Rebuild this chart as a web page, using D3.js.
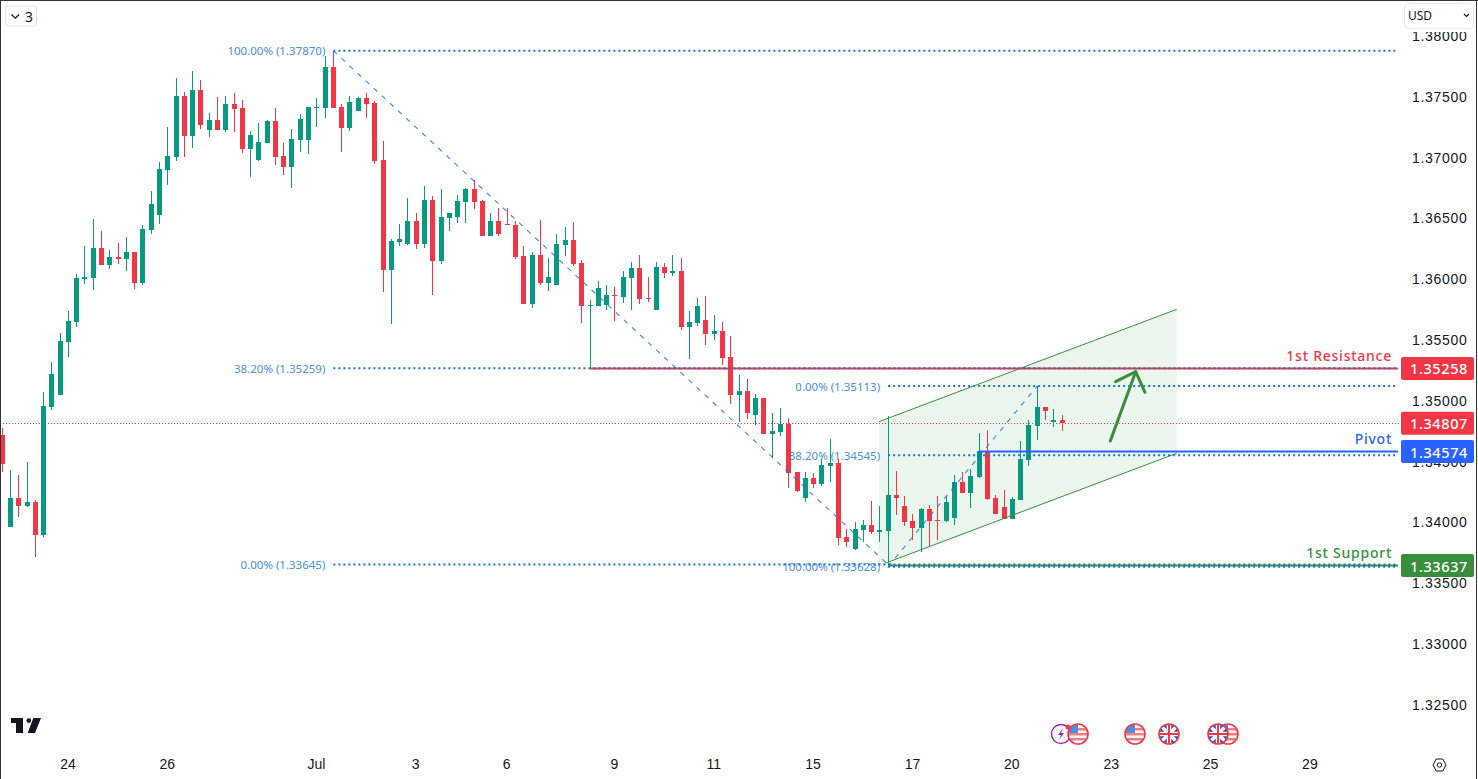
<!DOCTYPE html>
<html>
<head>
<meta charset="utf-8">
<title>USD chart</title>
<script src="https://d3js.org/d3.v7.min.js"></script>
<style>
  html, body { margin:0; padding:0; background:#fff; overflow:hidden; }
  svg { display:block; font-family:"Noto Sans", sans-serif; }
</style>
</head>
<body>
<div id="chart"></div>
<script>
var opens = [1.34711,1.33954,1.34192,1.34127,1.34160,1.33888,1.34941,1.35040,1.35475,1.35640,1.35993,1.36002,1.36248,1.36109,1.36174,1.36158,1.36216,1.35961,1.36396,1.36520,1.36890,1.36997,1.37498,1.37170,1.37548,1.37219,1.37301,1.37219,1.37433,1.37400,1.37063,1.36972,1.37112,1.37293,1.37005,1.36915,1.37137,1.37137,1.37400,1.37400,1.37737,1.37408,1.37235,1.37375,1.37482,1.37441,1.36972,1.36068,1.36298,1.36281,1.36471,1.36281,1.36643,1.36142,1.36495,1.36503,1.36627,1.36734,1.36635,1.36347,1.36471,1.36446,1.36438,1.36183,1.35788,1.36191,1.35961,1.35944,1.36273,1.36314,1.36125,1.35771,1.35771,1.35780,1.35862,1.35845,1.36002,1.36084,1.35837,1.35739,1.36092,1.36043,1.36059,1.35599,1.35632,1.35656,1.35541,1.35566,1.35352,1.35040,1.35072,1.34875,1.35015,1.34719,1.34735,1.34801,1.34406,1.34192,1.34357,1.34308,1.34456,1.34480,1.33872,1.33773,1.33929,1.33970,1.33913,1.33921,1.34217,1.34127,1.34003,1.33946,1.34102,1.34012,1.34003,1.34028,1.34324,1.34234,1.34365,1.34579,1.34192,1.34118,1.34020,1.34176,1.34505,1.34785,1.34941,1.34817,1.34834];
var highs = [1.34768,1.34423,1.34382,1.34489,1.34176,1.35064,1.35311,1.35549,1.35730,1.36035,1.36265,1.36487,1.36388,1.36232,1.36290,1.36339,1.36216,1.36438,1.36717,1.36956,1.37244,1.37647,1.37531,1.37704,1.37630,1.37359,1.37490,1.37498,1.37523,1.37466,1.37211,1.37276,1.37301,1.37400,1.37112,1.37227,1.37350,1.37408,1.37482,1.37827,1.37870,1.37433,1.37498,1.37490,1.37523,1.37457,1.37128,1.36322,1.36446,1.36660,1.36536,1.36758,1.36676,1.36734,1.36536,1.36684,1.36742,1.36808,1.36643,1.36536,1.36577,1.36577,1.36471,1.36265,1.36216,1.36479,1.36166,1.36364,1.36421,1.36462,1.36150,1.35821,1.35977,1.35944,1.35928,1.36059,1.36133,1.36191,1.36010,1.36133,1.36125,1.36191,1.36166,1.35730,1.35837,1.35854,1.35697,1.35640,1.35525,1.35204,1.35171,1.35048,1.35015,1.34891,1.34933,1.34850,1.34406,1.34406,1.34398,1.34513,1.34678,1.34513,1.33937,1.33995,1.34012,1.34168,1.34127,1.34867,1.34414,1.34209,1.34061,1.34110,1.34135,1.34209,1.34209,1.34382,1.34406,1.34431,1.34727,1.34752,1.34217,1.34258,1.34201,1.34661,1.34834,1.35113,1.34941,1.34924,1.34875];
var lows = [1.34406,1.33954,1.34036,1.34118,1.33707,1.33872,1.34916,1.35040,1.35352,1.35599,1.35952,1.35903,1.36109,1.36076,1.36117,1.36059,1.35911,1.35944,1.36364,1.36446,1.36767,1.36964,1.36997,1.37071,1.37227,1.37161,1.37219,1.37202,1.37202,1.37030,1.36832,1.36964,1.37112,1.36931,1.36849,1.36742,1.37038,1.37022,1.37244,1.37318,1.37400,1.37038,1.37211,1.37375,1.37318,1.36939,1.35887,1.35623,1.36265,1.36273,1.36240,1.36248,1.35862,1.36117,1.36388,1.36454,1.36454,1.36569,1.36347,1.36347,1.36347,1.36438,1.36158,1.35788,1.35755,1.35944,1.35895,1.35944,1.36183,1.36100,1.35632,1.35259,1.35771,1.35739,1.35648,1.35796,1.35739,1.35788,1.35804,1.35739,1.36002,1.36018,1.35574,1.35336,1.35607,1.35451,1.35492,1.35286,1.34966,1.34817,1.34842,1.34793,1.34719,1.34521,1.34702,1.34275,1.34242,1.34160,1.34275,1.34291,1.34324,1.33806,1.33789,1.33765,1.33831,1.33896,1.33831,1.33628,1.34053,1.33962,1.33847,1.33748,1.33798,1.33847,1.33995,1.33970,1.34234,1.34110,1.34357,1.34176,1.34061,1.34020,1.34020,1.34176,1.34456,1.34669,1.34834,1.34776,1.34743];
var closes = [1.34472,1.34192,1.34127,1.34160,1.33888,1.34949,1.35212,1.35484,1.35648,1.36002,1.36010,1.36248,1.36109,1.36174,1.36158,1.36216,1.35961,1.36405,1.36610,1.36898,1.37005,1.37498,1.37170,1.37548,1.37260,1.37301,1.37219,1.37433,1.37392,1.37063,1.37178,1.37120,1.37293,1.36997,1.36915,1.37145,1.37309,1.37408,1.37408,1.37737,1.37400,1.37235,1.37449,1.37482,1.37433,1.36964,1.36068,1.36306,1.36322,1.36471,1.36281,1.36643,1.36142,1.36503,1.36536,1.36635,1.36734,1.36627,1.36347,1.36471,1.36364,1.36438,1.36174,1.35788,1.36191,1.35961,1.36010,1.36281,1.36314,1.36117,1.35771,1.35780,1.35919,1.35862,1.35854,1.36010,1.36084,1.35829,1.35829,1.36092,1.36043,1.36059,1.35599,1.35640,1.35771,1.35541,1.35566,1.35344,1.35040,1.35072,1.34891,1.35015,1.34719,1.34743,1.34801,1.34398,1.34250,1.34357,1.34308,1.34464,1.34480,1.33863,1.33831,1.33937,1.33970,1.33913,1.33929,1.34217,1.34192,1.33995,1.33946,1.34102,1.34003,1.34003,1.34160,1.34324,1.34234,1.34373,1.34579,1.34184,1.34061,1.34020,1.34184,1.34513,1.34793,1.34941,1.34908,1.34834,1.34807];

var priceTicks = [1.38,1.375,1.37,1.365,1.36,1.355,1.35,1.345,1.34,1.335,1.33,1.325];
var timeTickIndex = [8,20,38,50,61,74,86,98,110,122,134,146,158];
var timeTickLabels = ["24","26","Jul","3","6","9","11","15","17","20","23","25","29"];

// fib levels: [price, first candle index, label]
var fibLevels = [
  [1.37870, 40, "100.00% (1.37870)"],
  [1.35259, 40, "38.20% (1.35259)"],
  [1.33645, 40, "0.00% (1.33645)"],
  [1.35113, 107, "0.00% (1.35113)"],
  [1.34545, 107, "38.20% (1.34545)"],
  [1.33628, 107, "100.00% (1.33628)"]
];
var fibDiagonals = [[40,1.37870,107,1.33645],[107,1.33628,125,1.35113]];

var levelNames = ["1st Resistance","Pivot","1st Support"];
var levelPrices = [1.35258,1.34574,1.33637];
var levelStart = [71,118,107];
var levelColors = ["#f23645","#2962ff","#388e3c"];
var lastPrice = 1.34807;

var channelFill = [[105.89,1.34820],[141.85,1.35744],[141.85,1.34560],[106.62,1.33655],[105.89,1.33666]];
var channelEdges = [[[105.89,1.34820],[141.85,1.35744]],[[106.62,1.33655],[141.85,1.34560]]];
var arrowLine = [[133.83,1.34661],[136.9,1.35231]];
var arrowHead = [[134.48,1.35149],[136.9,1.35231],[138.02,1.35062]];

var width = 1478, height = 779;
var upColor = "#089981", downColor = "#f23645", fibColor = "#1976d2", fibText = "#4a90dc";
var textColor = "#131722";
var axisX = 1399, rightEnd = 168.6;

var x = d3.scaleLinear().domain([0,128]).range([2.2,1062]);
var y = d3.scaleLinear().domain([1.38,1.325]).range([35,703.8]);

var svg = d3.select("#chart").append("svg").attr("width",width).attr("height",height);

// drawings that sit under the candles
var toPath = d3.line().x(d => x(d[0])).y(d => y(d[1]));
svg.append("path").attr("d", toPath(channelFill)+"Z").attr("fill","#4caf50").attr("fill-opacity",0.11);

svg.append("line").attr("x1",0).attr("x2",axisX).attr("y1",Math.round(y(lastPrice))+.5).attr("y2",Math.round(y(lastPrice))+.5)
   .attr("stroke",downColor).attr("stroke-dasharray","1,2");

svg.selectAll(".fibLabel").data(fibLevels).enter().append("text")
   .attr("class","fibLabel")
   .attr("x",d => x(d[1])-8).attr("y",d => y(d[0]))
   .attr("text-anchor","end").attr("dominant-baseline","central")
   .attr("font-size",11.5).attr("fill",fibText)
   .text(d => d[2]);

// candles
var candles = d3.range(opens.length);
var g = svg.append("g").attr("shape-rendering","crispEdges");
var col = i => closes[i] >= opens[i] ? upColor : downColor;
g.selectAll(".wick").data(candles).enter().append("rect")
   .attr("class","wick")
   .attr("x",i => Math.floor(x(i)))
   .attr("width",1)
   .attr("y",i => Math.round(y(highs[i])))
   .attr("height",i => Math.max(1,Math.round(y(lows[i]))-Math.round(y(highs[i]))))
   .attr("fill",col);
g.selectAll(".body").data(candles).enter().append("rect")
   .attr("class","body")
   .attr("x",i => Math.floor(x(i))-2)
   .attr("width",5)
   .attr("y",i => Math.round(y(Math.max(opens[i],closes[i]))))
   .attr("height",i => Math.max(1,Math.round(y(Math.min(opens[i],closes[i])))-Math.round(y(Math.max(opens[i],closes[i])))))
   .attr("fill",col);

// channel edges, levels and fib lines
channelEdges.forEach(e => {
  svg.append("path").attr("d",toPath(e)).attr("fill","none").attr("stroke","#388e3c").attr("stroke-width",1);
});
levelPrices.forEach((p,i) => {
  svg.append("line").attr("x1",x(levelStart[i])).attr("x2",x(rightEnd))
     .attr("y1",y(p)).attr("y2",y(p))
     .attr("stroke",levelColors[i]).attr("stroke-width",2);
  svg.append("text").attr("x",1392).attr("y",y(p)-13)
     .attr("text-anchor","end").attr("dominant-baseline","central")
     .attr("font-size",14).attr("font-weight",500).attr("letter-spacing",0.75).attr("fill",levelColors[i])
     .text(levelNames[i]);
});
fibLevels.forEach(d => {
  svg.append("line").attr("x1",x(d[1])).attr("x2",x(rightEnd))
     .attr("y1",y(d[0])).attr("y2",y(d[0]))
     .attr("stroke",fibColor).attr("stroke-width",2).attr("stroke-dasharray","2,3");
});
fibDiagonals.forEach(d => {
  svg.append("line").attr("x1",x(d[0])).attr("y1",y(d[1])).attr("x2",x(d[2])).attr("y2",y(d[3]))
     .attr("stroke",fibColor).attr("stroke-opacity",0.85).attr("stroke-width",1.1).attr("stroke-dasharray","5,6");
});

svg.append("path").attr("d",toPath(arrowLine)).attr("stroke","#388e3c").attr("stroke-width",3).attr("stroke-linecap","round").attr("fill","none");
svg.append("path").attr("d",toPath(arrowHead)).attr("stroke","#388e3c").attr("stroke-width",3).attr("stroke-linecap","round").attr("stroke-linejoin","round").attr("fill","none");

// axes
var priceAxis = d3.axisRight(y).tickValues(priceTicks).tickSize(0).tickPadding(0).tickFormat(d3.format(".5f"));
var ga = svg.append("g").attr("transform","translate(1412,1)").call(priceAxis);
ga.select(".domain").remove();
ga.selectAll("text").attr("font-family","inherit").attr("font-size",14).attr("letter-spacing",0.7).attr("fill",textColor);

var timeAxis = d3.axisBottom(x).tickValues(timeTickIndex).tickSize(0).tickPadding(0)
   .tickFormat((d,i) => timeTickLabels[i]);
var gt = svg.append("g").attr("transform","translate(-1,759)").call(timeAxis);
gt.select(".domain").remove();
gt.selectAll("text").attr("font-family","inherit").attr("font-size",14).attr("fill",textColor);

// price tags
var tagPrices = [levelPrices[0],lastPrice,levelPrices[1],levelPrices[2]];
var tagColors = [levelColors[0],downColor,levelColors[1],levelColors[2]];
tagPrices.forEach((p,i) => {
  svg.append("rect").attr("x",1401).attr("width",73).attr("y",y(p)-11.5).attr("height",23).attr("rx",2).attr("fill",tagColors[i]);
  svg.append("text").attr("x",1439).attr("y",y(p)).attr("text-anchor","middle").attr("dominant-baseline","central")
     .attr("font-size",14.5).attr("font-weight",500).attr("letter-spacing",0.6).attr("fill","#fff").text(d3.format(".5f")(p));
});

// top controls
svg.append("rect").attr("x",5.5).attr("y",6).attr("width",31).attr("height",20).attr("rx",3).attr("fill","#fff").attr("stroke","#e0e3eb");
svg.append("path").attr("d","M11.5 14.5l3.8 3.6 3.8-3.6").attr("fill","none").attr("stroke","#131722").attr("stroke-width",1.3);
svg.append("text").attr("x",25).attr("y",21.5).attr("font-size",14).attr("fill",textColor).text("3");
svg.append("rect").attr("x",1404).attr("y",28).attr("width",70).attr("height",4).attr("fill","#fff");
svg.append("rect").attr("x",1404.5).attr("y",3.5).attr("width",69).attr("height",25).attr("rx",4).attr("fill","#fff").attr("stroke","#e8eaf0");
svg.append("text").attr("x",1408).attr("y",20).attr("font-size",12).attr("fill",textColor).text("USD");
svg.append("path").attr("d","M1464 14l2.5 2.5 2.5-2.5").attr("fill","none").attr("stroke","#131722").attr("stroke-width",1.2);

// tradingview mark
svg.append("path").attr("d","M11 718h12v15h-7v-10h-5zM33.3 718h7.7l-6 15h-7.3z").attr("fill","#131722");
svg.append("circle").attr("cx",28.8).attr("cy",720.6).attr("r",2.4).attr("fill","#131722");

// event markers on the bottom row
function usFlag(cx) {
  var id = "c"+cx;
  svg.append("clipPath").attr("id",id).append("circle").attr("cx",cx).attr("cy",734).attr("r",9.5);
  var f = svg.append("g").attr("clip-path","url(#"+id+")");
  f.append("circle").attr("cx",cx).attr("cy",734).attr("r",10).attr("fill","#fff");
  [-6,-1,4].forEach(o => f.append("rect").attr("x",cx-10).attr("y",734+o).attr("width",20).attr("height",2.5).attr("fill","#f77c80"));
  f.append("rect").attr("x",cx-10).attr("y",724).attr("width",10).attr("height",9).attr("fill","#4a8fe0");
  svg.append("circle").attr("cx",cx).attr("cy",734).attr("r",10).attr("fill","none").attr("stroke",downColor).attr("stroke-width",1.6);
}
function ukFlag(cx) {
  var id = "k"+cx;
  svg.append("clipPath").attr("id",id).append("circle").attr("cx",cx).attr("cy",734).attr("r",9.5);
  var f = svg.append("g").attr("clip-path","url(#"+id+")");
  f.append("circle").attr("cx",cx).attr("cy",734).attr("r",10).attr("fill","#1e53c4");
  f.append("path").attr("d",`M${cx-10} 724L${cx+10} 744M${cx+10} 724L${cx-10} 744`).attr("stroke","#fff").attr("stroke-width",3.5);
  f.append("path").attr("d",`M${cx} 724V744M${cx-10} 734H${cx+10}`).attr("stroke","#fff").attr("stroke-width",4.5);
  f.append("path").attr("d",`M${cx} 724V744M${cx-10} 734H${cx+10}`).attr("stroke","#f23645").attr("stroke-width",2);
  svg.append("circle").attr("cx",cx).attr("cy",734).attr("r",10).attr("fill","none").attr("stroke",downColor).attr("stroke-width",1.6);
}
svg.append("circle").attr("cx",1061).attr("cy",734).attr("r",9.5).attr("fill","#fff").attr("stroke","#9c27b0").attr("stroke-width",1.4);
svg.append("path").attr("d","M1063 728l-5 7h3l-2 5 5-7h-3z").attr("fill","#9c27b0");
svg.append("circle").attr("cx",1068).attr("cy",727).attr("r",2.5).attr("fill",downColor);
usFlag(1078); usFlag(1135); ukFlag(1169); usFlag(1228); ukFlag(1218);

// settings hexagon
svg.append("path").attr("d","M1433 765l3.2-6h6.6l3.2 6-3.2 6h-6.6z").attr("fill","none").attr("stroke",textColor).attr("stroke-width",1);
svg.append("circle").attr("cx",1439.5).attr("cy",765).attr("r",2.2).attr("fill","none").attr("stroke",textColor).attr("stroke-width",1);

// window frame
svg.append("rect").attr("x",0).attr("y",0).attr("width",1).attr("height",height).attr("fill","#333");
svg.append("rect").attr("x",0).attr("y",0).attr("width",width).attr("height",1).attr("fill","#333");
svg.append("rect").attr("x",1476).attr("y",0).attr("width",1).attr("height",height).attr("fill","#333");
</script>
</body>
</html>
